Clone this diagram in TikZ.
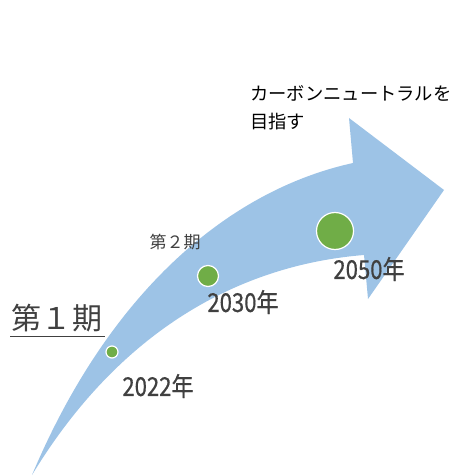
\documentclass[tikz,border=0pt]{standalone}
\usepackage{fontspec}
\newfontfamily\jp{Noto Sans CJK JP}
\newfontfamily\jpn[FakeStretch=0.85,FakeBold=0.6]{Noto Sans CJK JP}
\definecolor{arrowblue}{HTML}{9DC3E6}
\definecolor{dotgreen}{HTML}{70AD47}
\definecolor{txt}{HTML}{404040}
\begin{document}
\begin{tikzpicture}[x=1pt,y=-1pt,
  dot/.style={circle,fill=dotgreen,draw=white,line width=1.2pt,inner sep=0pt},
  year/.style={text=txt,font=\jpn\fontsize{26}{26}\selectfont,inner sep=0pt},
  per/.style={text=txt,inner sep=0pt}]
\useasboundingbox (0,0) rectangle (455,476);
\coordinate (tail) at (32,475);
\coordinate (ut) at (353,163);
\coordinate (hu) at (349,118);
\coordinate (tip) at (444,190);
\coordinate (hl) at (368,299);
\coordinate (lt) at (364,255);
\fill[arrowblue] (tail) .. controls (110,290) and (230,190) .. (ut) -- (hu) -- (tip) -- (hl) -- (lt) .. controls (240,265) and (120,330) .. (tail) -- cycle;
\node[dot,minimum size=12pt] (d1) at (112,352) {};
\node[dot,minimum size=21pt] (d2) at (208,276) {};
\node[dot,minimum size=37pt] (d3) at (335,231) {};
\node[year] (y1) at (158,386) {2022年};
\node[year] (y2) at (243,302) {2030年};
\node[year] (y3) at (369,269) {2050年};
\node[per,font=\jp\fontsize{30}{30}\selectfont] (p1) at (57,318) {第１期};
\draw[txt,line width=1pt] (10,336) -- (105,336);
\node[per,font=\jp\fontsize{17}{17}\selectfont] (p2) at (175,242) {第２期};
\node[anchor=north west,inner sep=0pt,align=left,text=black,font=\jp\fontsize{18.3}{28}\selectfont] (cn) at (250,85) {カーボンニュートラルを\\目指す};
\end{tikzpicture}
\end{document}
